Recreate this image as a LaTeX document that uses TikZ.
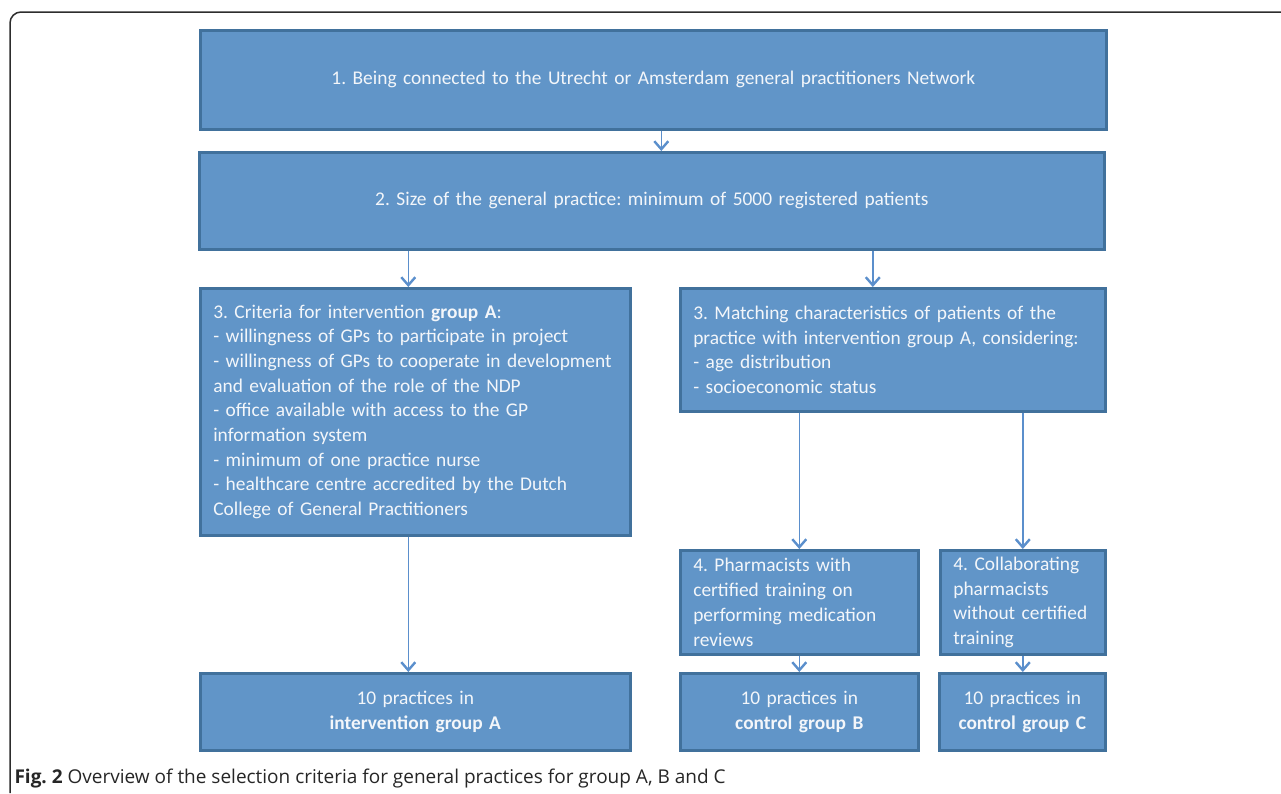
\documentclass[tikz,border=0pt]{standalone}
\usepackage{fontspec}
\setmainfont{Carlito}
\newfontfamily\captionfont{Open Sans}
\usetikzlibrary{arrows.meta}
\definecolor{boxblue}{RGB}{97,149,200}
\definecolor{edgeblue}{RGB}{65,113,156}
\definecolor{arrowblue}{RGB}{91,143,204}
\definecolor{paletext}{RGB}{243,246,250}
\definecolor{framegray}{RGB}{45,45,45}
\frenchspacing

\begin{document}
\begin{tikzpicture}[x=1pt, y=-1pt,
  crit/.style={draw=edgeblue, fill=boxblue, line width=2.6pt, text=paletext,
    font=\fontsize{19.4}{24.7}\selectfont, anchor=north west, inner sep=0pt},
  flow/.style={arrowblue, line width=1.4pt,
    -{Straight Barb[length=8pt,width=14pt,line width=2.4pt]}}]

\useasboundingbox (0,0) rectangle (1281,793);
\draw[framegray, line width=1.5pt, rounded corners=11pt] (1281,12) -- (10,12) -- (10,793);

% ---------- Top ----------
\node[crit, minimum width=906pt, minimum height=99pt, text width=880pt, align=center] (net) at (199,29)
  {1. Being connected to the Utrecht or Amsterdam general practitioners Network};
\node[crit, minimum width=905pt, minimum height=97pt, text width=880pt, align=center] (size) at (198,151)
  {2. Size of the general practice: minimum of 5000 registered patients};

% ---------- Criteria ----------
\node[crit, minimum width=430pt, minimum height=247pt, text width=404pt, align=left] (critA) at (199,287)
  {3. Criteria for intervention \textbf{group A}:\\
   - willingness of GPs to participate in project\\
   - willingness of GPs to cooperate in development\\
   and evaluation of the role of the NDP\\
   - office available with access to the GP\\
   information system\\
   - minimum of one practice nurse\\
   - healthcare centre accredited by the Dutch\\
   College of General Practitioners};
\node[crit, minimum width=425pt, minimum height=123pt, text width=399pt, align=left] (match) at (679,287)
  {3. Matching characteristics of patients of the\\
   practice with intervention group A, considering:\\
   - age distribution\\
   - socioeconomic status};

% ---------- Pharmacists ----------
\node[crit, minimum width=238pt, minimum height=104pt, text width=212pt, align=left] (pharmB) at (679,549)
  {4. Pharmacists with\\ certified training on\\ performing medication\\ reviews};
\node[crit, minimum width=165pt, minimum height=104pt, text width=139pt, align=left] (pharmC) at (939,549)
  {4. Collaborating\\ pharmacists\\ without certified\\ training};

% ---------- Groups ----------
\node[crit, minimum width=430pt, minimum height=77pt, text width=404pt, align=center] (grpA) at (199,672)
  {10 practices in\\ \textbf{intervention group A}};
\node[crit, minimum width=238pt, minimum height=77pt, text width=212pt, align=center] (grpB) at (679,672)
  {10 practices in\\ \textbf{control group B}};
\node[crit, minimum width=166pt, minimum height=77pt, text width=140pt, align=center] (grpC) at (938,672)
  {10 practices in\\ \textbf{control group C}};

% ---------- Arrows ----------
\draw[flow] ([xshift=8pt]net.south) -- ([xshift=8pt]net.south |- size.north);
\draw[flow] ([xshift=-7pt]critA.north |- size.south) -- ([xshift=-7pt]critA.north);
\draw[flow] ([xshift=-20pt]match.north |- size.south) -- ([xshift=-20pt]match.north);
\draw[flow] (pharmB.north |- match.south) -- (pharmB.north);
\draw[flow] (pharmC.north |- match.south) -- (pharmC.north);
\draw[flow] ([xshift=-7pt]critA.south) -- ([xshift=-7pt]grpA.north);
\draw[flow] (pharmB.south) -- (grpB.north);
\draw[flow] (pharmC.south) -- (pharmC.south |- grpC.north);

\node[anchor=base west, text=black!85, font=\captionfont\fontsize{19}{22}\selectfont] (caption) at (11,783)
  {\textbf{Fig. 2} Overview of the selection criteria for general practices for group A, B and C};
\end{tikzpicture}
\end{document}
